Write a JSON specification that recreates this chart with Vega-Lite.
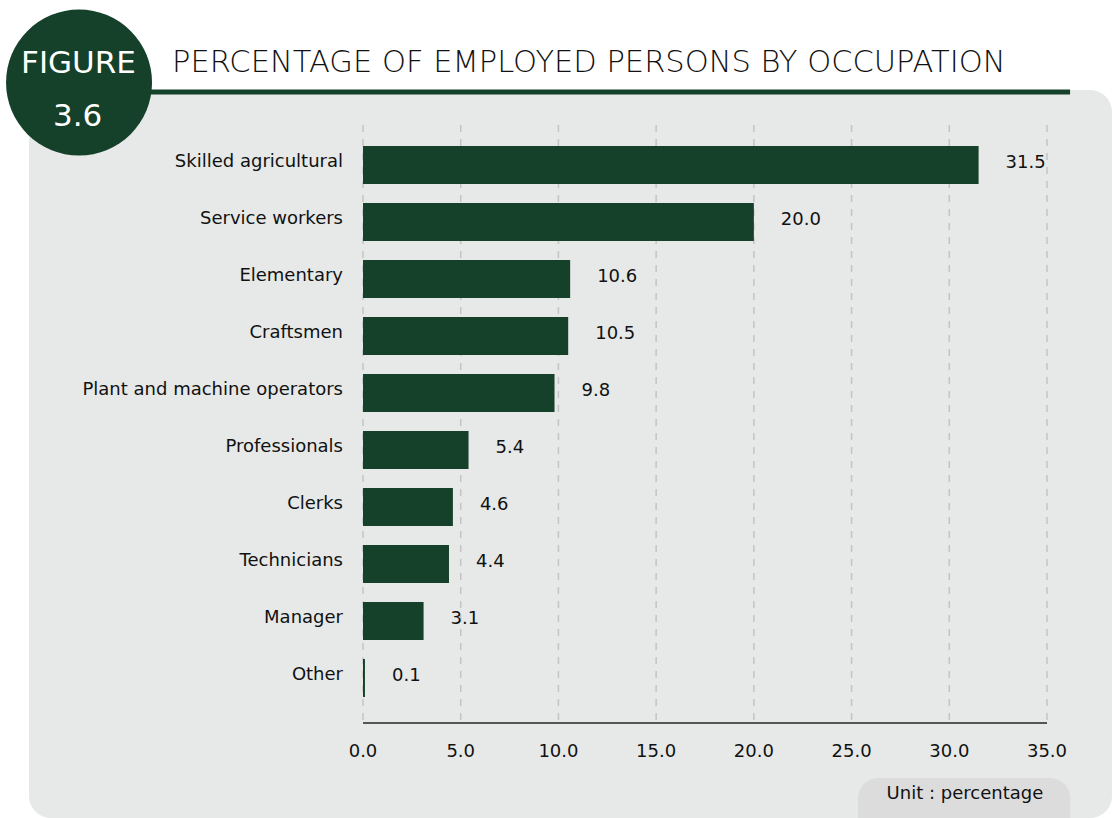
{
  "$schema": "https://vega.github.io/schema/vega-lite/v6.json",
  "width": 1083,
  "height": 728,
  "autosize": {"type": "none"},
  "padding": {"left": 29, "top": 90, "right": 0, "bottom": 0},
  "background": "white",
  "config": {
    "view": {"fill": "#e6e9e8", "stroke": null, "cornerRadius": 22},
    "font": "DejaVu Sans"
  },
  "datasets": {
    "occ": [
      {"rank": 1, "occupation": "Skilled agricultural", "pct": 31.5},
      {"rank": 2, "occupation": "Service workers", "pct": 20.0},
      {"rank": 3, "occupation": "Elementary", "pct": 10.6},
      {"rank": 4, "occupation": "Craftsmen", "pct": 10.5},
      {"rank": 5, "occupation": "Plant and machine operators", "pct": 9.8},
      {"rank": 6, "occupation": "Professionals", "pct": 5.4},
      {"rank": 7, "occupation": "Clerks", "pct": 4.6},
      {"rank": 8, "occupation": "Technicians", "pct": 4.4},
      {"rank": 9, "occupation": "Manager", "pct": 3.1},
      {"rank": 10, "occupation": "Other", "pct": 0.1}
    ],
    "ticks": [
      {"tick": 0}, {"tick": 5}, {"tick": 10}, {"tick": 15},
      {"tick": 20}, {"tick": 25}, {"tick": 30}, {"tick": 35}
    ]
  },
  "layer": [
    {
      "data": {"name": "ticks"},
      "mark": {"type": "rule", "strokeDash": [7, 7], "color": "#c4c4c4", "strokeWidth": 1.5},
      "encoding": {
        "x": {"field": "tick", "type": "quantitative", "axis": null, "title": null},
        "y": {"datum": 0.298, "axis": null},
        "y2": {"datum": 10.789}
      }
    },
    {
      "data": {"name": "occ"},
      "mark": {"type": "bar", "orient": "horizontal", "height": 38, "color": "#15402a"},
      "encoding": {
        "x": {
          "field": "pct",
          "type": "quantitative",
          "stack": null,
          "title": null,
          "scale": {"domain": [0, 35], "range": [334, 1018], "nice": false, "zero": false, "padding": 0},
          "axis": null
        },
        "y": {
          "field": "rank",
          "type": "quantitative",
          "title": null,
          "scale": {"domain": [-0.316, 12.456], "reverse": true, "nice": false, "zero": false, "padding": 0},
          "axis": null
        }
      }
    },
    {
      "data": {"values": [{}]},
      "mark": {"type": "rule", "color": "#555555", "strokeWidth": 2},
      "encoding": {
        "x": {"datum": 0, "axis": null},
        "x2": {"datum": 35},
        "y": {"datum": 10.789, "axis": null}
      }
    },
    {
      "data": {"name": "ticks"},
      "mark": {"type": "text", "align": "center", "baseline": "alphabetic", "fontSize": 18, "color": "#111111"},
      "encoding": {
        "x": {"field": "tick", "type": "quantitative", "axis": null},
        "y": {"datum": 11.386, "axis": null},
        "text": {"field": "tick", "format": ".1f"}
      }
    },
    {
      "data": {"name": "occ"},
      "mark": {"type": "text", "align": "right", "baseline": "middle", "dx": -20, "dy": -3, "fontSize": 18, "color": "#111111"},
      "encoding": {
        "x": {"datum": 0, "axis": null},
        "y": {"field": "rank", "type": "quantitative", "axis": null},
        "text": {"field": "occupation"}
      }
    },
    {
      "data": {"name": "occ"},
      "mark": {"type": "text", "align": "left", "baseline": "middle", "dx": 27, "dy": -2, "fontSize": 18, "color": "#111111"},
      "encoding": {
        "x": {"field": "pct", "type": "quantitative", "axis": null},
        "y": {"field": "rank", "type": "quantitative", "axis": null},
        "text": {"field": "pct", "format": ".1f"}
      }
    },
    {
      "data": {"values": [{}]},
      "mark": {"type": "rule", "color": "#15402a", "strokeWidth": 5},
      "encoding": {
        "x": {"datum": -10.9, "axis": null},
        "x2": {"datum": 36.18},
        "y": {"datum": -0.281, "axis": null}
      }
    },
    {
      "data": {"values": [{}]},
      "mark": {"type": "text", "align": "left", "baseline": "alphabetic", "fontSize": 30.5, "fontWeight": 200, "color": "#111111"},
      "encoding": {
        "x": {"datum": -9.773, "axis": null},
        "y": {"datum": -0.632, "axis": null},
        "text": {"value": "PERCENTAGE OF EMPLOYED PERSONS BY OCCUPATION"}
      }
    },
    {
      "data": {"values": [{}]},
      "mark": {"type": "circle", "size": 21316, "color": "#15402a", "opacity": 1},
      "encoding": {
        "x": {"datum": -14.53, "axis": null},
        "y": {"datum": -0.447, "axis": null}
      }
    },
    {
      "data": {"values": [{}]},
      "mark": {"type": "text", "align": "center", "baseline": "alphabetic", "fontSize": 31, "color": "#ffffff"},
      "encoding": {
        "x": {"datum": -14.56, "axis": null},
        "y": {"datum": -0.614, "axis": null},
        "text": {"value": "FIGURE"}
      }
    },
    {
      "data": {"values": [{}]},
      "mark": {"type": "text", "align": "center", "baseline": "alphabetic", "fontSize": 31, "color": "#ffffff"},
      "encoding": {
        "x": {"datum": -14.6, "axis": null},
        "y": {"datum": 0.316, "axis": null},
        "text": {"value": "3.6"}
      }
    },
    {
      "data": {"values": [{}]},
      "mark": {"type": "rect", "color": "#dcdcdc", "cornerRadius": 20},
      "encoding": {
        "x": {"datum": 25.33, "axis": null},
        "x2": {"datum": 36.18},
        "y": {"datum": 11.754, "axis": null},
        "y2": {"datum": 13.02}
      }
    },
    {
      "data": {"values": [{}]},
      "mark": {"type": "text", "align": "center", "baseline": "alphabetic", "fontSize": 18, "color": "#111111"},
      "encoding": {
        "x": {"datum": 30.8, "axis": null},
        "y": {"datum": 12.123, "axis": null},
        "text": {"value": "Unit : percentage"}
      }
    }
  ]
}
